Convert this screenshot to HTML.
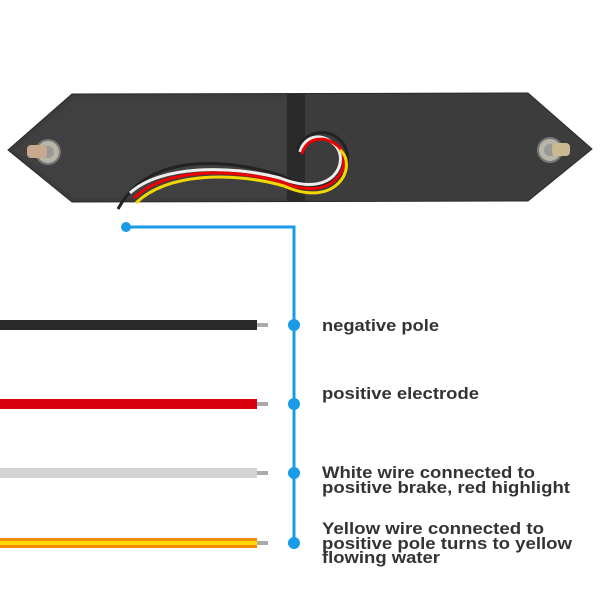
<!DOCTYPE html>
<html><head><meta charset="utf-8"><style>
html,body{margin:0;padding:0;background:#fff;}
svg{display:block;}
text{font-family:"Liberation Sans",Arial,sans-serif;font-weight:bold;fill:#333;font-size:17px;}
</style></head><body>
<svg width="600" height="600" viewBox="0 0 600 600">
<!-- plate -->
<polygon points="8,150 72,94 528,93 592,149 528,201 72,202" fill="#3c3c3c" stroke="#2a2a2a" stroke-width="1"/>
<polygon points="14,150 74,99 286,99 286,198 74,198" fill="#404040"/>
<rect x="287" y="94" width="18" height="107" fill="#2a2a2a"/>
<!-- bolts -->
<circle cx="48" cy="152" r="12" fill="#b8b4a8" stroke="#777" stroke-width="2"/>
<circle cx="48" cy="152" r="6" fill="#999"/>
<rect x="27" y="145" width="20" height="13" rx="4" fill="#c9a890"/>
<circle cx="550" cy="150" r="12" fill="#b8b4a8" stroke="#777" stroke-width="2"/>
<circle cx="550" cy="150" r="6" fill="#999"/>
<rect x="552" y="143" width="18" height="13" rx="4" fill="#c9b890"/>
<!-- wires on plate -->
<g fill="none" stroke-width="3">
<path d="M118,209 C150,150 230,160 280,175 C340,205 360,160 340,140 C325,125 300,135 298,150" stroke="#222"/>
<path d="M130,193 C160,165 230,165 280,178 C335,200 350,160 335,145 C320,130 303,138 300,152" stroke="#eee"/>
<path d="M134,198 C165,168 232,168 282,182 C336,205 355,162 338,146 C322,133 305,140 302,154" stroke="#e00"/>
<path d="M136,203 C168,172 235,172 284,186 C338,210 358,165 340,150" stroke="#f2d800"/>
</g>
<!-- blue connector -->
<g stroke="#1a9be6" stroke-width="3" fill="none">
<polyline points="126,227 294,227 294,545"/>
</g>
<g fill="#1a9be6">
<circle cx="126" cy="227" r="5"/>
<circle cx="294" cy="325" r="6"/>
<circle cx="294" cy="404" r="6"/>
<circle cx="294" cy="473" r="6"/>
<circle cx="294" cy="543" r="6"/>
</g>
<!-- wires -->
<rect x="0" y="320" width="257" height="10" fill="#2a2a2a"/>
<rect x="0" y="399" width="257" height="10" fill="#d9000f"/>
<rect x="0" y="468" width="257" height="10" fill="#d4d4d4"/>
<rect x="0" y="538" width="257" height="10" fill="#f08a00"/>
<rect x="0" y="541" width="257" height="4" fill="#ffd800"/>
<g fill="#aaa">
<rect x="257" y="323" width="11" height="4"/>
<rect x="257" y="402" width="11" height="4"/>
<rect x="257" y="471" width="11" height="4"/>
<rect x="257" y="541" width="11" height="4"/>
</g>
<!-- labels -->
<text x="322" y="331" textLength="117" lengthAdjust="spacingAndGlyphs">negative pole</text>
<text x="322" y="399" textLength="157" lengthAdjust="spacingAndGlyphs">positive electrode</text>
<text x="322" y="478" textLength="213" lengthAdjust="spacingAndGlyphs">White wire connected to</text>
<text x="322" y="493" textLength="248" lengthAdjust="spacingAndGlyphs">positive brake, red highlight</text>
<text x="322" y="534" textLength="222" lengthAdjust="spacingAndGlyphs">Yellow wire connected to</text>
<text x="322" y="549" textLength="250" lengthAdjust="spacingAndGlyphs">positive pole turns to yellow</text>
<text x="322" y="563" textLength="118" lengthAdjust="spacingAndGlyphs">flowing water</text>
</svg>
</body></html>
